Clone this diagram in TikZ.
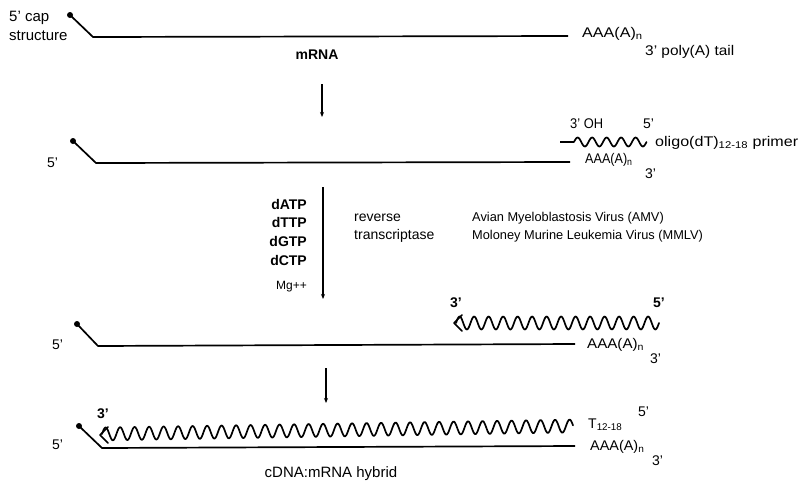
\documentclass[tikz,border=0pt]{standalone}
\usepackage{fontspec}
\setmainfont{Liberation Sans}
\usetikzlibrary{arrows.meta,calc}
\newcommand{\hs}[2]{\scalebox{#1}[1]{#2}}
\begin{document}
\begin{tikzpicture}[x=1pt,y=-1pt,
  strand/.style={line width=1.7pt,line join=round},
  capdot/.style={fill=black},
  wave/.style={line width=1.7pt,line join=round,line cap=round},
  chev/.style={line width=1.6pt,line cap=round,line join=round},
  steparrow/.style={line width=1.2pt,-{Stealth[length=5pt,width=4pt]}},
  lbl/.style={inner sep=0pt,font=\fontsize{14}{15}\selectfont},
  lblw/.style={lbl,anchor=west},
  lble/.style={lbl,anchor=east}]
\useasboundingbox (0,0) rectangle (802,482);

% ---- Row 1: mRNA ----
\coordinate (c1) at (70,15);
\coordinate (b1) at (93,37);
\coordinate (e1) at (568,36);
\fill[capdot] (c1) circle (3pt);
\draw[strand] (c1) -- (b1) -- (e1);
\node[lblw,font=\fontsize{15}{16}\selectfont] (cap) at (9,18) {5' cap};
\node[lblw,font=\fontsize{15}{16}\selectfont] (struct) at (9,36) {structure};
\node[lbl] (mrna) at (317,55) {\bfseries mRNA};
\node[lblw] (poly1) at (582,34) {\hs{1.15}{AAA(A)\textsubscript{n}}};
\node[lblw] (tail) at (645,52) {\hs{1.1}{3' poly(A) tail}};

\coordinate (a1s) at (322,84);
\coordinate (a1e) at (322,117);
\draw[steparrow] (a1s) -- (a1e);

% ---- Row 2: primer annealing ----
\coordinate (c2) at (73,141);
\coordinate (b2) at (96,163);
\coordinate (e2) at (570,162);
\fill[capdot] (c2) circle (3pt);
\draw[strand] (c2) -- (b2) -- (e2);
\node[lblw] (f2) at (47,163) {5'};
\coordinate (p2a) at (560,142);
\coordinate (p2b) at (574,142);
\draw[line width=1.6pt] (p2a) -- (p2b);
\draw[wave,shift={(p2b)}] plot[domain=0:72.5,samples=80,smooth] (\x,{-4.5*sin(\x*24.83)});
\node[lblw] (oh) at (570,124) {\hs{0.92}{3' OH}};
\node[lblw] (p5) at (643,124) {5'};
\node[lblw] (oligo) at (655,143) {\hs{1.15}{oligo(dT)\textsubscript{12-18} primer}};
\node[lblw] (poly2) at (585,160) {\hs{0.9}{AAA(A)\textsubscript{n}}};
\node[lblw] (t3a) at (645,174) {3'};

\coordinate (a2s) at (323,187);
\coordinate (a2e) at (323,299);
\draw[steparrow] (a2s) -- (a2e);
\node[lble] (datp) at (307,204) {\bfseries dATP};
\node[lble] (dttp) at (307,222) {\bfseries dTTP};
\node[lble] (dgtp) at (307,241) {\bfseries dGTP};
\node[lble] (dctp) at (307,260) {\bfseries dCTP};
\node[lble,font=\fontsize{12}{13}\selectfont] (mg) at (307,287) {Mg++};
\node[lblw] (rev) at (354,218) {reverse};
\node[lblw] (trans) at (354,236) {transcriptase};
\node[lblw,font=\fontsize{12.8}{14}\selectfont] (amv) at (472,218) {Avian Myeloblastosis Virus (AMV)};
\node[lblw,font=\fontsize{12.8}{14}\selectfont] (mmlv) at (472,236) {Moloney Murine Leukemia Virus (MMLV)};

% ---- Row 3: extension ----
\coordinate (c3) at (77,324);
\coordinate (b3) at (98,346);
\coordinate (e3) at (575,344);
\fill[capdot] (c3) circle (3pt);
\draw[strand] (c3) -- (b3) -- (e3);
\node[lblw] (f3) at (52,345) {5'};
\coordinate (w3tip) at (454,323);
\coordinate (w3s) at (456,323);
\draw[wave,shift={(w3s)}] plot[domain=0:203,samples=240,smooth] (\x,{-6.5*sin(\x*24.83)});
\draw[chev] ($(w3tip)+(8,-8)$) -- (w3tip) -- ($(w3tip)+(8,8)$);
\node[lblw] (t3b) at (450,303) {\bfseries 3'};
\node[lblw] (f5b) at (653,303) {\bfseries 5'};
\node[lblw] (poly3) at (587,345) {\hs{1.08}{AAA(A)\textsubscript{n}}};
\node[lblw] (t3c) at (650,359) {3'};

\coordinate (a3s) at (326,368);
\coordinate (a3e) at (326,403);
\draw[steparrow] (a3s) -- (a3e);

% ---- Row 4: cDNA:mRNA hybrid ----
\coordinate (c4) at (79,426);
\coordinate (b4) at (102,448);
\coordinate (e4) at (575,446);
\fill[capdot] (c4) circle (3pt);
\draw[strand] (c4) -- (b4) -- (e4);
\node[lblw] (f4) at (52,445) {5'};
\coordinate (w4tip) at (100,435);
\coordinate (w4s) at (102,434);
\draw[wave,shift={(w4s)}] plot[domain=0:471,samples=520,smooth] (\x,{-0.017*\x-6.5*sin(\x*24.83)});
\draw[chev] ($(w4tip)+(8,-8)$) -- (w4tip) -- ($(w4tip)+(8,8)$);
\node[lblw] (t3d) at (97,414) {\bfseries 3'};
\node[lblw] (t1218) at (588,425) {T\textsubscript{12-18}};
\node[lblw] (f5d) at (638,412) {5'};
\node[lblw] (poly4) at (590,447) {\hs{1.03}{AAA(A)\textsubscript{n}}};
\node[lblw] (t3e) at (652,461) {3'};
\node[lbl,font=\fontsize{15}{16}\selectfont] (hybrid) at (331,474) {cDNA:mRNA hybrid};
\end{tikzpicture}
\end{document}
